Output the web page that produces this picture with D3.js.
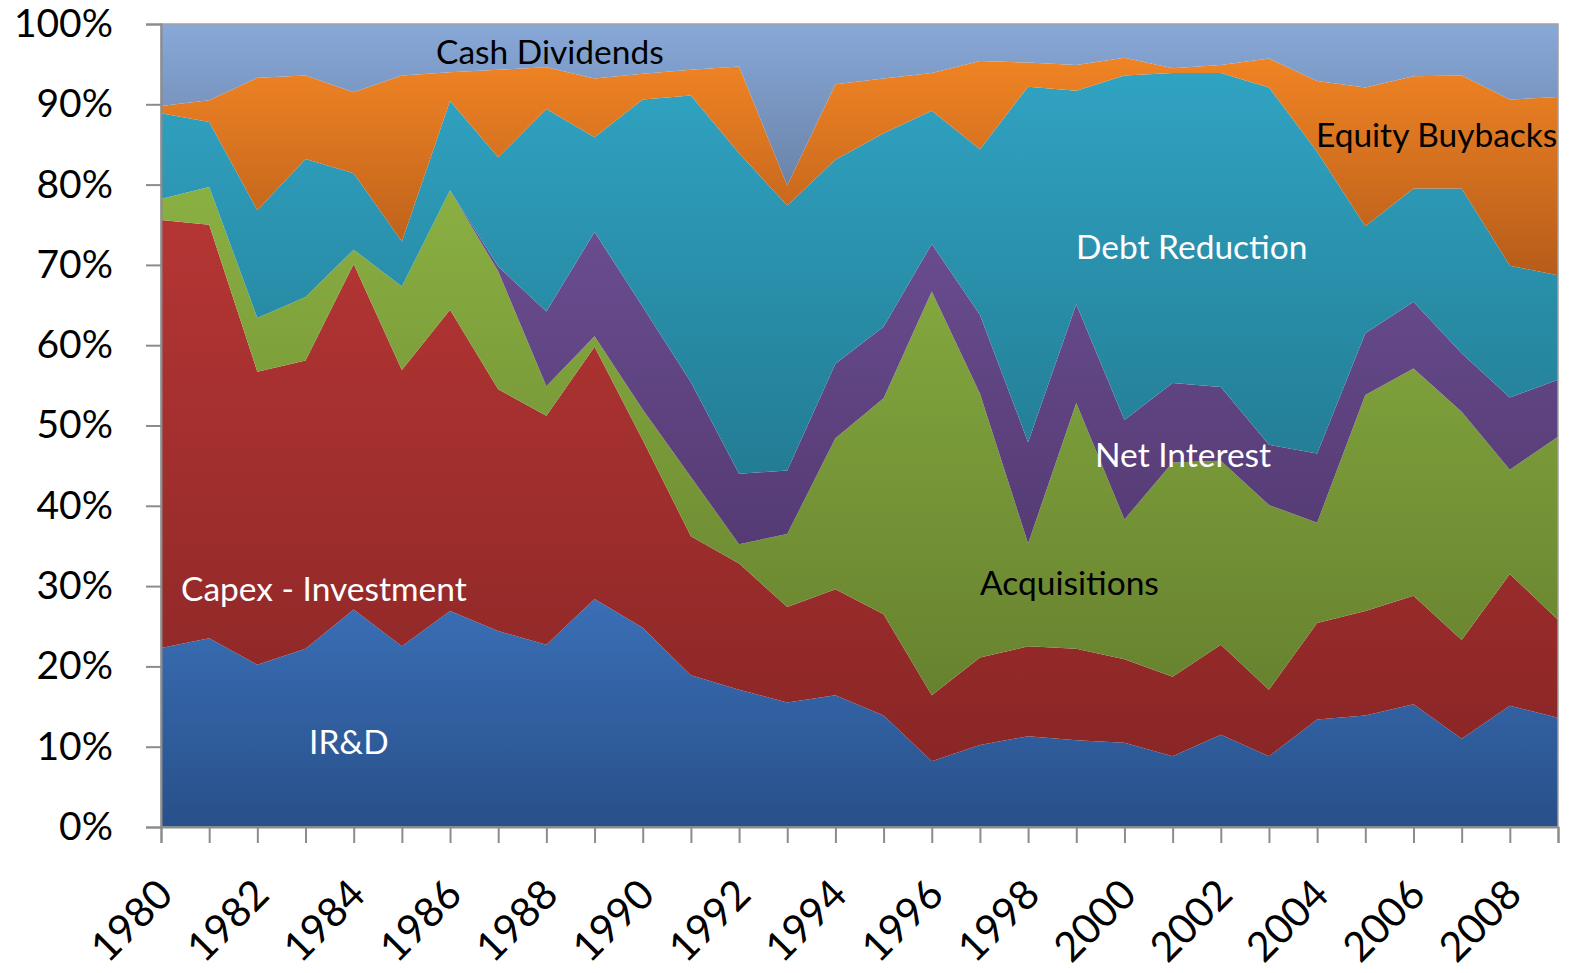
<!DOCTYPE html>
<html>
<head>
<meta charset="utf-8">
<script src="https://cdn.jsdelivr.net/npm/d3@7"></script>
<style>
    body { margin: 0; background: #fff; }
    #chart text { font-family: Lato, "Open Sans", sans-serif; }
</style>
</head>
<body>
<div id="chart"></div>
<script>
const years = [1980, 1981, 1982, 1983, 1984, 1985, 1986, 1987, 1988, 1989,
               1990, 1991, 1992, 1993, 1994, 1995, 1996, 1997, 1998, 1999,
               2000, 2001, 2002, 2003, 2004, 2005, 2006, 2007, 2008, 2009];
const yearLabels = [1980, 1982, 1984, 1986, 1988, 1990, 1992, 1994, 1996, 1998,
                    2000, 2002, 2004, 2006, 2008];

// share of total uses of cash, in percent (bottom to top)
const ird            = [22.3, 23.5, 20.2, 22.2, 27.1, 22.5, 26.9, 24.4, 22.7, 28.4, 24.8, 18.9, 17.1, 15.5, 16.4, 13.9,  8.2, 10.2, 11.3, 10.8, 10.5,  8.8, 11.5,  8.8, 13.4, 13.9, 15.3, 11.0, 15.1, 13.6];
const capex          = [53.3, 51.5, 36.5, 35.9, 43.0, 34.4, 37.5, 30.1, 28.5, 31.4, 23.4, 17.3, 15.7, 11.9, 13.2, 12.6,  8.2, 10.9, 11.2, 11.4, 10.4,  9.9, 11.2,  8.3, 12.0, 13.0, 13.5, 12.3, 16.4, 12.2];
const acquisitions   = [ 2.6,  4.7,  6.7,  7.9,  1.8, 10.4, 14.9, 14.7,  3.7,  1.3,  3.8,  7.4,  2.4,  9.1, 18.8, 26.9, 50.3, 32.9, 12.8, 30.6, 17.4, 26.7, 22.9, 23.0, 12.5, 26.9, 28.3, 28.4, 13.0, 22.8];
const netInterest    = [ 0.0,  0.0,  0.0,  0.0,  0.0,  0.0,  0.0,  0.6,  9.3, 13.0, 12.8, 11.8,  8.8,  7.9,  9.3,  8.9,  5.9,  9.8, 12.6, 12.3, 12.4,  9.9,  9.2,  7.5,  8.6,  7.7,  8.3,  7.3,  9.0,  7.1];
const debtReduction  = [10.7,  8.1, 13.4, 17.2,  9.5,  5.6, 11.1, 13.6, 25.2, 11.8, 25.8, 35.7, 39.9, 33.0, 25.4, 24.1, 16.6, 20.6, 44.3, 26.6, 42.9, 38.6, 39.1, 44.5, 37.6, 13.3, 14.1, 20.5, 16.4, 13.0];
const equityBuybacks = [ 0.9,  2.7, 16.5, 10.4, 10.1, 20.7,  3.6, 10.9,  5.2,  7.3,  3.2,  3.2, 10.8,  2.5,  9.4,  6.8,  4.7, 11.0,  3.0,  3.2,  2.2,  0.6,  1.0,  3.6,  8.8, 17.3, 14.0, 14.1, 20.7, 22.2];
const cashDividends  = [10.2,  9.5,  6.7,  6.4,  8.5,  6.4,  6.0,  5.7,  5.4,  6.8,  6.2,  5.7,  5.3, 20.1,  7.5,  6.8,  6.1,  4.6,  4.8,  5.1,  4.2,  5.5,  5.1,  4.3,  7.1,  7.9,  6.5,  6.4,  9.4,  9.1];

const seriesNames = ["IR&D", "Capex - Investment", "Acquisitions", "Net Interest",
                     "Debt Reduction", "Equity Buybacks", "Cash Dividends"];
const seriesValues = [ird, capex, acquisitions, netInterest, debtReduction, equityBuybacks, cashDividends];

// gradient top / bottom colours per series
const gradTop    = ["#3a6fb6", "#b43634", "#8ab042", "#6c4f93", "#30a3c2", "#f08424", "#88a8d8"];
const gradBottom = ["#28508a", "#8a2626", "#67822f", "#553b74", "#237c94", "#b65c1a", "#6a83a8"];

// in-chart series labels
const seriesLabels = [
    { name: "IR&D", x: 309, y: 742, color: "#fff" },
    { name: "Capex - Investment", x: 181, y: 589, color: "#fff" },
    { name: "Acquisitions", x: 980, y: 583, color: "#000" },
    { name: "Net Interest", x: 1095, y: 455, color: "#fff" },
    { name: "Debt Reduction", x: 1076, y: 247, color: "#fff" },
    { name: "Equity Buybacks", x: 1316, y: 135, color: "#000" },
    { name: "Cash Dividends", x: 436, y: 52, color: "#000" }
];

const width = 1569;
const height = 973;
const margin = { top: 24, right: 11, bottom: 146, left: 161 };

const rows = years.map((year, i) => {
    const row = { year: year };
    seriesNames.forEach((name, s) => { row[name] = seriesValues[s][i]; });
    return row;
});

const stacked = d3.stack()
    .keys(seriesNames)
    .offset(d3.stackOffsetExpand)(rows);

const svg = d3.select("#chart")
    .append("svg")
    .attr("width", width)
    .attr("height", height);

const x = d3.scalePoint()
    .domain(years)
    .range([margin.left, width - margin.right]);

const y = d3.scaleLinear()
    .domain([0, 1])
    .range([height - margin.bottom, margin.top]);

const defs = svg.append("defs");
seriesNames.forEach((name, i) => {
    const g = defs.append("linearGradient")
        .attr("id", "grad" + i)
        .attr("x1", 0).attr("y1", 0)
        .attr("x2", 0).attr("y2", 1);
    g.append("stop").attr("offset", "0%").attr("stop-color", gradTop[i]);
    g.append("stop").attr("offset", "100%").attr("stop-color", gradBottom[i]);
});

const area = d3.area()
    .x(d => x(d.data.year))
    .y0(d => y(d[0]))
    .y1(d => y(d[1]));

svg.append("g")
    .selectAll("path")
    .data(stacked)
    .enter()
    .append("path")
    .attr("d", area)
    .attr("fill", (d, i) => `url(#grad${i})`);

// plot border
svg.append("rect")
    .attr("x", margin.left)
    .attr("y", margin.top)
    .attr("width", width - margin.left - margin.right)
    .attr("height", height - margin.top - margin.bottom)
    .attr("fill", "none")
    .attr("stroke", "#a0a0a0")
    .attr("stroke-width", 1.5);

const yAxis = svg.append("g")
    .attr("transform", `translate(${margin.left},0)`)
    .call(d3.axisLeft(y)
        .tickValues(d3.range(0, 1.01, 0.1))
        .tickFormat(d3.format(".0%"))
        .tickSize(15)
        .tickPadding(33));

const xAxis = svg.append("g")
    .attr("transform", `translate(0,${height - margin.bottom})`)
    .call(d3.axisBottom(x)
        .tickFormat("")
        .tickSize(16));

[yAxis, xAxis].forEach(ax => {
    ax.select(".domain").attr("stroke", "#8c8c8c").attr("stroke-width", 2);
    ax.selectAll(".tick line").attr("stroke", "#8c8c8c").attr("stroke-width", 2);
});

yAxis.selectAll("text")
    .attr("font-size", 39)
    .attr("fill", "#000");

svg.append("g")
    .selectAll("text")
    .data(yearLabels)
    .enter()
    .append("text")
    .attr("transform", d => `translate(${x(d) + 14},${height - margin.bottom + 70}) rotate(-45)`)
    .attr("text-anchor", "end")
    .attr("font-size", 41)
    .attr("fill", "#000")
    .text(d => d);

svg.append("g")
    .selectAll("text")
    .data(seriesLabels)
    .enter()
    .append("text")
    .attr("x", d => d.x)
    .attr("y", d => d.y)
    .attr("dy", "0.35em")
    .attr("font-size", 33.5)
    .attr("fill", d => d.color)
    .text(d => d.name);
</script>
</body>
</html>
